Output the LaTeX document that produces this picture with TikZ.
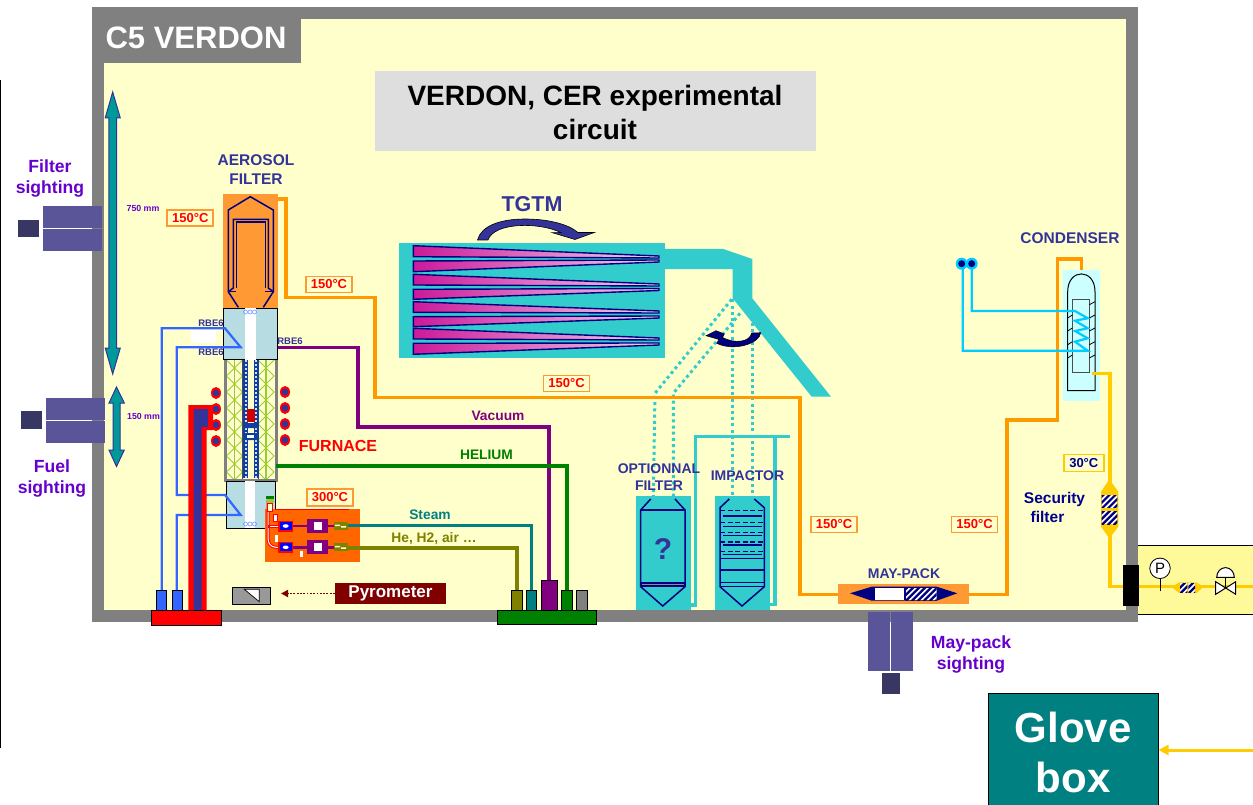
\documentclass[tikz,border=0pt]{standalone}
\usepackage{fontspec}
\setmainfont{Liberation Sans}
\usetikzlibrary{arrows.meta}
\definecolor{frame}{HTML}{808080}
\definecolor{paper}{HTML}{FFFFCC}
\definecolor{ink}{HTML}{333399}
\definecolor{navy}{HTML}{000080}
\definecolor{purp}{HTML}{6600CC}
\definecolor{orng}{HTML}{FF9933}
\definecolor{pipeo}{HTML}{FF9900}
\definecolor{teal2}{HTML}{33CCCC}
\definecolor{teal3}{HTML}{008080}
\definecolor{teal4}{HTML}{009999}
\definecolor{vio}{HTML}{800080}
\definecolor{grn}{HTML}{008000}
\definecolor{oli}{HTML}{808000}
\definecolor{blu}{HTML}{3366FF}
\definecolor{rbe}{HTML}{B7DDE3}
\definecolor{sight}{HTML}{5A5599}
\definecolor{sightd}{HTML}{383663}
\definecolor{yel}{HTML}{FFCC00}
\definecolor{cyn}{HTML}{00CCFF}
\definecolor{lcyn}{HTML}{CCFFFF}
\definecolor{lat}{HTML}{99CC33}
\definecolor{dkred}{HTML}{800000}
\definecolor{hot}{HTML}{FF6600}
\definecolor{chain}{HTML}{0F3F9F}
\definecolor{magL}{HTML}{CC1A99}
\definecolor{magR}{HTML}{F2D0EE}
\newcommand\fs[1]{\fontsize{#1}{#1}\selectfont}
\newcommand{\boxat}[6]{%
  \pgfmathsetmacro\bw{#5-(#3)}\pgfmathsetmacro\bh{#6-(#4)}%
  \node[inner sep=0pt,outer sep=0pt,minimum width=\bw pt,minimum height=\bh pt,#2] (#1) at ({((#3)+(#5))/2},{((#4)+(#6))/2}) {};}
\newcommand{\hatchbox}[4]{%
  \begin{scope}
    \clip (#1,#2) rectangle (#3,#4);
    \fill[white] (#1,#2) rectangle (#3,#4);
    \foreach \k in {-30,-24,...,60} {
      \draw[navy,line width=2.2pt] ({#1+\k},#4+1) -- ({#1+\k+(#4-(#2))+2},#2-1);
    }
  \end{scope}}
\newcommand{\heater}[2]{%
  \fill[red] (#1,#2) ellipse [x radius=5pt,y radius=6pt];
  \fill[ink] (#1,#2) circle [radius=3.3pt];}
\tikzset{
  lab/.style={inner sep=0pt,align=center,font=\bfseries\fs{#1}},
  lab/.default=13,
  inklab/.style={lab=#1,text=ink},
  purplab/.style={lab=#1,text=purp},
  temp/.style={draw=orng,line width=1.8pt,fill=paper,text=red,font=\bfseries\fs{13},inner sep=0pt,minimum width=46pt,minimum height=16pt},
  pipe/.style={line width=3.4pt,draw=#1,line join=miter},
  thin pipe/.style={line width=2.2pt,draw=#1,line join=miter},
  dotteal/.style={draw=teal2,line width=3pt,dash pattern=on 3pt off 3.2pt},
  dimarrow/.style={fill=teal4,draw=ink,line width=1pt,line join=miter},
  outl/.style={draw=navy,line width=1.5pt,line join=miter},
  stub/.style={draw=black,line width=1pt},
}
\begin{document}
\begin{tikzpicture}[x=1pt,y=-1pt]
\useasboundingbox (0,0) rectangle (1253,805);
\fill[white] (0,0) rectangle (1253,805);
% left rule
\draw[black,line width=1pt] (0.5,80) -- (0.5,748);
% frame
\fill[frame] (92,7) rectangle (1138,622);
\fill[paper] (104,19) rectangle (1126,610);
\boxat{tab}{fill=frame}{104}{19}{301}{63}
\node[lab=31,text=white] (tabtxt) at (196,38) {C5 VERDON};
\boxat{titlebox}{fill=black!13}{375}{71}{816}{151}
\node[lab=28,text=black] (title) at (595,112) {VERDON, CER experimental\\[6pt]circuit};
% right annex
\fill[yellow!40!white,draw=none] (1138,545) rectangle (1253,614);
\draw[black,line width=1pt] (1253,545) -- (1138,545) (1138,614) -- (1253,614);
% dimension arrows
\draw[dimarrow] (112.7,92) -- (120.3,118) -- (116.6,118) -- (116.6,348) -- (120.3,348) -- (112.7,374) -- (105.2,348) -- (108.9,348) -- (108.9,118) -- (105.2,118) -- cycle;
\draw[dimarrow] (116.5,387) -- (124.3,403) -- (120,403) -- (120,450) -- (124.3,450) -- (116.5,466.5) -- (109,450) -- (113,450) -- (113,403) -- (109,403) -- cycle;
\node[purplab=8.8] (dim750) at (143,208) {750 mm};
\node[purplab=8.8] (dim150) at (143.5,416) {150 mm};
% sightings
\boxat{fs1}{fill=sight}{43}{206}{102}{228}
\boxat{fs2}{fill=sight}{43}{229}{102}{251}
\boxat{fs3}{fill=sightd}{18}{220}{39}{237}
\boxat{us1}{fill=sight}{46}{398}{105}{420}
\boxat{us2}{fill=sight}{46}{421}{105}{443}
\boxat{us3}{fill=sightd}{21}{411}{42}{429}
\boxat{ms1}{fill=sight}{868}{612}{890}{671}
\boxat{ms2}{fill=sight}{891}{612}{913}{671}
\boxat{ms3}{fill=sightd}{882}{673}{900}{694}
\node[purplab=17.6] (fstxt) at (50,178.5) {Filter\\[3.4pt]sighting};
\node[purplab=17.6] (ustxt) at (52,478.5) {Fuel\\[3.4pt]sighting};
\node[purplab=17.6] (mstxt) at (971,654.5) {May-pack\\[3.4pt]sighting};
% aerosol filter
\node[inklab=15.5] (aerotxt) at (256,170) {AEROSOL\\[3.5pt]FILTER};
\boxat{aero}{fill=orng}{223}{194}{278}{308}
\draw[outl] (238.3,307.3) -- (228.3,291.7) -- (228.3,210) -- (250.3,196.7) -- (273.3,210) -- (273.3,291.7) -- (263.3,307.3);
\draw[outl] (228.3,291.7) -- (233.3,288) -- (233.3,219.3) -- (268.3,219.3) -- (268.3,288) -- (273.3,291.7);
\draw[outl] (236.3,288) -- (236.3,222) -- (265.3,222) -- (265.3,288);
\draw[outl] (228.3,291.7) -- (236.3,291.7) (265.3,291.7) -- (273.3,291.7);
% upper RBE
\boxat{rbeU}{fill=rbe,draw=black,line width=1pt}{223.3}{308.5}{277.7}{359.7}
\fill[white] (245,308) rectangle (256,360);
\foreach \xx in {245.5,250,254.5} \draw[blu!70,line width=0.6pt] (\xx,312) circle [radius=2pt];
% furnace
\fill[paper] (226,360) rectangle (275,479);
\begin{scope}
\clip (226,360) rectangle (275,479);
\foreach \cx in {234.5,266} {
  \draw[lat,line width=1.2pt] (\cx,360) -- (\cx,480);
  \foreach \yy in {360,376,...,480} {
    \draw[lat,line width=1pt] (\cx-8,\yy) -- (\cx+8,\yy+16) (\cx+8,\yy) -- (\cx-8,\yy+16);
  }
}
\end{scope}
\fill[paper] (248,360) rectangle (254.5,479);
\draw[black!70,line width=.8pt] (242.7,360) -- (242.7,479) (258.8,360) -- (258.8,479);
\draw[chain,line width=5pt] (245.8,360) -- (245.8,478) (256,360) -- (256,478);
\draw[white!85!blue,line width=1.6pt,dash pattern=on 1.8pt off 2.2pt] (245.8,360) -- (245.8,478) (256,360) -- (256,478);
\fill[chain] (243.5,423) rectangle (258,428) (243.5,433) rectangle (258,440);
\fill[white] (247,435) rectangle (254,438);
\fill[red!80!black] (247,409) rectangle (254.5,422);
\draw[frame,line width=3pt] (225,360) -- (225,480) -- (276,480) -- (276,360);
% lower RBE
\boxat{rbeL}{fill=rbe,draw=black,line width=1pt}{226}{481}{275}{528}
\fill[white] (245,481) rectangle (255,528);
\foreach \xx in {245.5,250,254.5} \draw[blu!70,line width=0.6pt] (\xx,524) circle [radius=2pt];
% RBE lines
\fill[white] (190.7,330) rectangle (216,343);
\draw[thin pipe=blu] (161.7,590) |- (225,328.3) -- (240.7,347.3) -- (176.7,347.3) -- (176.7,495) -- (225,495) -- (240.7,515) -- (176.7,515) -- (176.7,590);
\node[inklab=9.5] (rbe1) at (211,323) {RBE6};
\node[inklab=9.5] (rbe2) at (211,352.5) {RBE6};
\node[inklab=9.5] (rbe3) at (290,341) {RBE6};
% heaters
\foreach \yy in {393,409,425,441} {\heater{216}{\yy}}
\foreach \yy in {392,408,424,440} {\heater{285}{\yy}}
% red/blue feed
\fill[red] (188.3,405) -- (213,405) -- (213,430) -- (206.7,430) -- (206.7,610) -- (188.3,610) -- cycle;
\fill[ink] (193.7,409) -- (208,409) -- (208,427) -- (201.7,427) -- (201.7,610) -- (193.7,610) -- cycle;
\boxat{redbase}{fill=red,draw=black,line width=1pt}{151}{610}{221}{625}
\boxat{st1}{fill=blu,stub}{156}{590}{166.5}{610}
\boxat{st2}{fill=blu,stub}{172}{590}{182.5}{610}
% furnace labels
\node[lab=16,text=red] (furn) at (338,446) {FURNACE};
% gas manifold base
\boxat{gbase}{fill=grn,stub}{497.3}{610}{596.7}{624.3}
\boxat{gs1}{fill=oli,stub}{511.7}{590}{522}{610}
\boxat{gs2}{fill=teal3,stub}{526.3}{590}{536.7}{610}
\boxat{gs3}{fill=vio,stub}{541}{580}{557}{610}
\boxat{gs4}{fill=grn,stub}{561.7}{590}{572}{610}
\boxat{gs5}{fill=frame,stub}{576.7}{590}{587}{610}
% gas lines
\coordinate (vacA) at (358,427);
\draw[pipe=vio] (rbeU.east |- 0,347.3) -| (vacA) -| (gs3.north);
\draw[pipe=grn] (276,466) -| (gs4.north);
\node[lab=13.8,text=vio] (vac) at (498,415.5) {Vacuum};
\node[lab=13.8,text=grn] (hel) at (486.5,455) {HELIUM};
\node[lab=13.8,text=teal3] (stm) at (430,514.5) {Steam};
\node[lab=13.8,text=oli] (hea) at (434,539) {He, H2, air …};
% hot plate
\boxat{plate}{fill=hot}{265}{509}{360}{562}
\draw[teal3,line width=3.4pt] (346,525.5) -| (gs2.north);
\draw[oli,line width=3.4pt] (346,548) -| (gs1.north);
\draw[red,line width=1pt] (275,509) -- (349,509);
\draw[red,line width=3pt] (268,500) -- (268,538) .. controls (268,544) and (271,547) .. (276,547.3) -- (280,547.3);
\draw[white,line width=1pt] (268,510) -- (268,538) .. controls (268,544) and (271,547) .. (276,547.3) -- (280,547.3);
\draw[red,line width=3pt] (268,526) -- (280,526);
\draw[white,line width=1pt] (270,526) -- (280,526);
\fill[white,draw=red,line width=.8pt] (273,514) rectangle (277.5,521);
\fill[white] (275,535) rectangle (278,542);
\fill[white] (300,551) rectangle (303,557);
\fill[paper,draw=red,line width=.5pt] (267,503) rectangle (272,511);
\fill[grn] (266,495.5) rectangle (274,499);
\fill[lat] (267,499) rectangle (274,503);
\foreach \yy/\nm in {526/a,547.3/b} {
  \draw[vio,line width=2.5pt] (291,\yy) -- (308,\yy);
  \fill[red] (278,\yy-5.5) rectangle (293,\yy+5.5);
  \fill[blue] (280,\yy-4) rectangle (291.5,\yy+4);
  \fill[white] (285.7,\yy) ellipse [x radius=3pt,y radius=1.8pt];
  \fill[vio] (307,\yy-7) rectangle (328,\yy+7);
  \fill[white] (314,\yy-4) rectangle (322,\yy+4);
  \draw[vio,line width=2.5pt] (328,\yy) -- (336,\yy);
  \fill[oli] (334,\yy-4) rectangle (348,\yy+4);
  \fill[paper] (335,\yy-1.5) rectangle (340,\yy) (341,\yy) rectangle (346,\yy+1.5);
}
\node[temp,minimum height=16.5pt] (t300) at (330,497.5) {300°C};
% pyrometer
\boxat{pyrbox}{fill=black!40,draw=black,line width=1pt}{232}{587}{270}{604}
\fill[white,draw=black,line width=.7pt] (244.3,589.3) -- (259.3,589.3) -- (259.3,601.7) -- cycle;
\node[inner sep=0pt,minimum width=111pt,minimum height=21pt,fill=dkred,text=white,font=\bfseries\fs{17}] (pyr) at (390.5,593.5) {Pyrometer};
\draw[dkred,line width=1.8pt,dash pattern=on 1.8pt off 1.5pt,-{Triangle[length=7pt,width=7pt]}] (pyr.west) -- (281,593.5);
% TGTM
\boxat{tgtm}{fill=teal2}{399}{243}{665}{358}
\fill[teal2] (665,249) -- (723.3,249) -- (752.3,259) -- (752.3,298.3) -- (831,396.7) -- (811.7,396.7) -- (732.7,298.3) -- (732.7,269) -- (665,269) -- cycle;
\foreach \a/\b/\c/\d in {
 245.7/256/258/256.7, 261/260/262/271.7,
 274.3/284/286/285, 289.3/288.5/290.5/299.3,
 301.7/311/313/312.3, 316.7/316/318/326.7,
 328.3/338/340/339, 343.3/343/345/354.3} {
  \shadedraw[left color=magL,right color=magR,draw=navy,line width=1.4pt,line join=miter]
    (413.3,\a) -- (659,\b) -- (659,\c) -- (413.3,\d) -- cycle;
}
\node[inklab=21.5] (tgtmtxt) at (532,204) {TGTM};
\draw[fill=ink,draw=black,line width=.6pt,line join=miter] (477.5,240) .. controls (481,226) and (500,219) .. (525,219) .. controls (548,219) and (568,224) .. (578,232.5) -- (594.3,232.5) -- (575,239.5) -- (552.3,232.7) -- (561,232.7) .. controls (540,222) and (494,222) .. (488,240) -- cycle;
% dotted
\draw[dotteal] (731.7,299.3) -- (655,393.3) -- (653.3,497);
\draw[dotteal] (740,313.3) -- (673.3,393.3) -- (673.3,497);
\draw[dotteal] (732.3,299.3) -- (732.3,496);
\draw[dotteal] (752.3,323) -- (752.3,496);
\draw[fill=navy,draw=black,line width=.5pt,line join=miter] (760.7,332.7) .. controls (760,343) and (735,352) .. (716.7,343.3) -- (719,339.5) -- (706,335.7) -- (716,330.7) -- (724.3,334) -- (722.5,337.5) .. controls (735,344) and (750,342) .. (751.7,333) -- cycle;
% main hot line
\coordinate (mainA) at (286,297.3);
\coordinate (mainB) at (375,397.3);
\coordinate (mainC) at (800,594.3);
% optional filter
\boxat{optf}{fill=teal2}{636}{496}{691}{610}
\draw[outl] (650.7,499) -- (640.7,510) -- (640.7,586.7) -- (662.7,606) -- (685,586.7) -- (685,510) -- (675,499);
\draw[outl] (640.7,510) -- (685,510);
\fill[navy] (640.7,581.7) rectangle (685,587);
\fill[black!45] (642,584) rectangle (684,585.2);
\node[lab=30,text=ink] (qm) at (663,549) {?};
% impactor
\boxat{impf}{fill=teal2}{715}{496}{770}{610}
\draw[outl] (729.3,499) -- (720,507.7) -- (720,586.7) -- (742,606) -- (764.3,586.7) -- (764.3,507.7) -- (754.3,499);
\foreach \yy in {510.7,522.7,532.7,542,551.7} \draw[navy,line width=1.2pt,dash pattern=on 5pt off 2.5pt] (720,\yy) -- (764.3,\yy);
\foreach \yy in {516,526.7,535.7,545,554.7} \draw[navy,line width=1.2pt] (722.7,\yy) -- (761.7,\yy);
\foreach \yy in {558.3,570,582.7,586.7} \draw[navy,line width=1.2pt] (720,\yy) -- (764.3,\yy);
\draw[pipe=teal2] (optf.east |- 0,605) -- (695.7,605) -- (695.7,436.7) -- (790,436.7);
\draw[pipe=teal2] (impf.east |- 0,604.3) -- (775,604.3) -- (775,436.7);
\node[inklab=14] (opttxt) at (659,477) {OPTIONNAL\\[3pt]FILTER};
\node[inklab=14] (imptxt) at (747.5,476) {IMPACTOR};
% May-pack
\boxat{may}{fill=orng}{838}{584}{969}{604}
\fill[navy] (850,593.3) -- (871.7,586.7) -- (936.7,586.7) -- (957.3,593.3) -- (936.7,600.7) -- (871.7,600.7) -- cycle;
\fill[white] (875,588) rectangle (904,600);
\hatchbox{905.7}{588}{936.7}{600}
\node[inklab=14] (maytxt) at (904,573.5) {MAY-PACK};
\draw[pipe=pipeo] (aero.east |- 0,199) -| (mainA) -| (mainB) -| (mainC) -- (may.west |- mainC);
\draw[pipe=pipeo] (may.east |- mainC) -| (1007,420) -| (1057.3,259) -| (1081.7,270);
% condenser
\node[inklab=15.5] (condtxt) at (1070,238.5) {CONDENSER};
\boxat{cond}{fill=lcyn}{1063.3}{270}{1100}{401}
\draw[black,line width=1pt] (1067.7,390.7) -- (1067.7,291.7) .. controls (1067.7,268) and (1095,268) .. (1095,291.7) -- (1095,390.7) -- cycle;
\draw[black!70,line width=1.1pt] (1072.3,299.7) rectangle (1089.3,372.7);
\foreach \yy in {315,328,341.7,355} \draw[black,line width=.8pt] (1067.7,\yy+3) -- (1072.3,\yy);
\foreach \yy in {301.7,315,328,341.7,355} \draw[black,line width=.8pt] (1089.3,\yy+3) -- (1095,\yy);
\coordinate (dot1) at (961.7,263.7);
\coordinate (dot2) at (971.7,263.7);
\draw[thin pipe=cyn] (dot2) |- (1075,311) -- (1087.7,318.3) -- (1075,320.7) -- (1087.7,328.3) -- (1075,331) -- (1087.7,338.3) -- (1075,341.7) -- (1087.7,350.7) -| (962.7,263.7);
\foreach \p in {dot1,dot2} {\fill[cyn] (\p) circle [radius=6pt]; \fill[navy] (\p) circle [radius=3.5pt];}
% condensate line and security filter
\boxat{blk}{fill=black}{1122.7}{565.3}{1139.3}{605.7}
\draw[pipe=yel] (1091.7,373.3) -| (1110,586.7) -- (blk.west |- 0,586.7);
\draw[pipe=yel] (blk.east |- 0,586.7) -- (1253,586.7);
\fill[yel] (1109.3,479.3) -- (1118.3,491.7) -- (1118.3,526.7) -- (1109.3,538.3) -- (1101,526.7) -- (1101,491.7) -- cycle;
\hatchbox{1101.7}{495}{1117.3}{507.7}
\hatchbox{1101.7}{511}{1117.3}{524}
\node[draw=yel,line width=1.8pt,fill=paper,text=navy!90!blue,font=\bfseries\fs{13},inner sep=0pt,minimum width=40pt,minimum height=17pt] (t30) at (1083.8,463) {30°C};
\node[lab=15.5,text=navy!90!blue] (sec1) at (1054.5,499) {Security};
\node[lab=15.5,text=navy!90!blue] (sec2) at (1047.5,516.5) {filter};
% annex instruments
\fill[yel] (1171.7,587) -- (1179.3,582.3) -- (1196.7,582.3) -- (1203.3,587) -- (1196.7,593) -- (1179.3,593) -- cycle;
\hatchbox{1180}{583}{1187.3}{592.7}
\hatchbox{1188.3}{583}{1195}{592.7}
\draw[black,line width=1pt] (1160,578) -- (1160,591);
\node[circle,draw=black,fill=white,line width=.8pt,minimum size=20.5pt,inner sep=0pt,font=\fs{15}] (gauge) at (1160,568.3) {P};
\draw[black,fill=white,line width=1pt] (1215.7,581.7) -- (1235.7,594.3) -- (1235.7,581.7) -- (1215.7,594.3) -- cycle;
\draw[black,line width=1pt] (1225.7,587.7) -- (1225.7,577.3);
\draw[black,fill=white,line width=1pt] (1216.7,577.3) arc [start angle=180,end angle=0,x radius=8.8pt,y radius=9.7pt] -- cycle;
% temperatures
\node[temp] (t1) at (190.3,218) {150°C};
\node[temp] (t2) at (329,284.5) {150°C};
\node[temp] (t3) at (566.5,383.5) {150°C};
\node[temp] (t4) at (834,524.5) {150°C};
\node[temp] (t5) at (974.5,524.5) {150°C};
% glove box
\fill[teal3,draw=black,line width=1pt] (988,810) -- (988,693) -- (1158,693) -- (1158,810);
\node[lab=42,text=white] (glv) at (1073,752) {Glove\\[8pt]box};
\coordinate (gin) at (1253,750);
\draw[yel,line width=3pt,-{Triangle[length=10pt,width=10pt]}] (gin) -- (1158.5,750);
\end{tikzpicture}
\end{document}
